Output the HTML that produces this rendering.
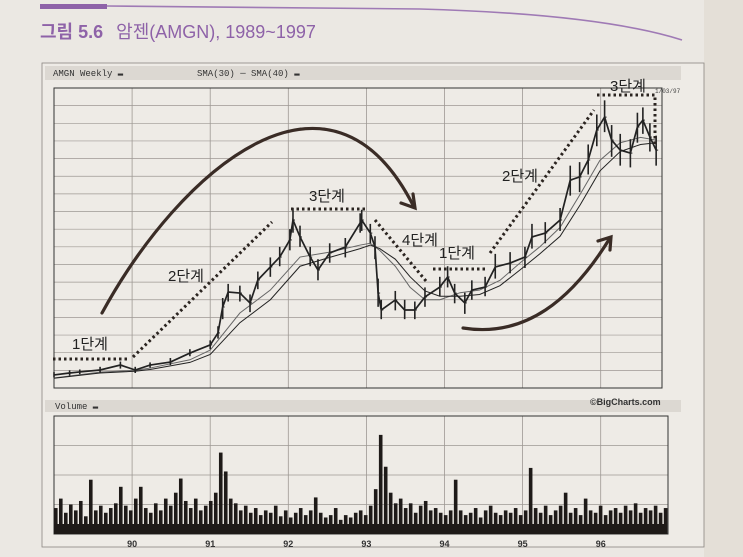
<!DOCTYPE html>
<html><head><meta charset="utf-8">
<style>
html,body{margin:0;padding:0;background:#ebe8e3;}
svg{display:block;}
.mono{font-family:"Liberation Mono","DejaVu Sans Mono",monospace;}
.kr{font-family:"Liberation Sans","Noto Sans CJK KR",sans-serif;}
</style></head>
<body>
<svg id="chart" width="743" height="557" viewBox="0 0 743 557" xmlns="http://www.w3.org/2000/svg">
  <rect x="0" y="0" width="743" height="557" fill="#ebe8e3"/>
  <rect x="704" y="0" width="39" height="557" fill="#e4dfd7"/>
  <rect x="40" y="4" width="67" height="5" fill="#8e62a8"/>
  <path d="M107,6 L420,9 Q600,14 682,40" fill="none" stroke="#9f7ab5" stroke-width="1.6"/>
  <text x="40" y="38" class="kr" font-size="18" font-weight="bold" fill="#8e62a8">그림 5.6 <tspan font-weight="normal" dx="8">암젠(AMGN), 1989~1997</tspan></text>

  <rect x="42" y="63" width="662" height="484" fill="#eeebe6" stroke="#8a8580" stroke-width="0.8"/>
  <rect x="45" y="66" width="636" height="14" fill="#dcd8d2"/>
  <text x="53" y="76" class="mono" font-size="9" fill="#333">AMGN Weekly ▬</text>
  <text x="197" y="76" class="mono" font-size="9" fill="#333">SMA(30) ─  SMA(40) ▬</text>
  <text x="655" y="93" class="mono" font-size="6" fill="#444">1/03/97</text>

  <rect x="45" y="400" width="636" height="12" fill="#dcd8d2"/>
  <text x="55" y="409" class="mono" font-size="9" fill="#333">Volume ▬</text>
  <text x="590" y="405" font-family="Liberation Sans,sans-serif" font-size="9" font-weight="bold" fill="#333">©BigCharts.com</text>

  <g id="priceGrid"></g>
  <g id="volGrid"></g>
  <g id="sma"></g>
  <g id="price"></g>
  <g id="vol"></g>
  <g id="xlabels"></g>

  <g fill="none" stroke="#2b2420" stroke-width="3" stroke-dasharray="2.5 3" >
    <line x1="53" y1="359" x2="130" y2="359"/>
    <line x1="133" y1="357" x2="272" y2="222"/>
    <line x1="291" y1="209" x2="368" y2="209"/>
    <line x1="375" y1="220" x2="426" y2="281"/>
    <line x1="433" y1="269" x2="486" y2="269"/>
    <line x1="490" y1="253" x2="594" y2="110"/>
    <polyline points="597,95 655,95 655,145"/>
  </g>
  <g fill="none" stroke="#3a2c26" stroke-width="3.2" stroke-linecap="round">
    <path d="M102,313 C180,170 330,40 414,207"/>
    <path d="M401,203 L415,208 L413,194"/>
    <path d="M463,328 C525,338 572,300 610,238"/>
    <path d="M598,241 L611,237 L610,250"/>
  </g>
  <g class="kr" font-size="15" fill="#222" text-anchor="middle">
    <text x="90" y="349">1단계</text>
    <text x="186" y="281">2단계</text>
    <text x="327" y="201">3단계</text>
    <text x="420" y="245">4단계</text>
    <text x="457" y="258">1단계</text>
    <text x="520" y="181">2단계</text>
    <text x="628" y="91">3단계</text>
  </g>
</svg>
<script>
const yearTicks = ["90","91","92","93","94","95","96"];
const tickYears = [90,91,92,93,94,95,96];
const priceDates = [89.00,89.20,89.33,89.59,89.85,90.04,90.23,90.49,90.74,91.00,91.10,91.16,91.23,91.38,91.51,91.61,91.77,91.89,92.02,92.06,92.15,92.28,92.38,92.53,92.73,92.92,92.94,93.05,93.11,93.15,93.19,93.37,93.49,93.62,93.75,93.94,94.04,94.13,94.26,94.35,94.52,94.65,94.84,95.03,95.12,95.29,95.48,95.61,95.73,95.84,95.95,96.05,96.14,96.25,96.38,96.47,96.54,96.63,96.71];
const priceClose = [0.74,0.85,0.91,1.02,1.30,1.02,1.30,1.47,1.98,2.44,3.12,4.59,5.44,5.38,4.82,6.12,6.86,7.42,8.39,9.52,8.56,7.42,6.69,7.65,7.99,9.35,9.52,8.78,7.99,5.38,4.42,4.99,4.42,4.42,5.16,5.72,6.29,5.38,4.82,5.55,5.72,6.86,7.08,7.42,8.56,8.78,9.52,11.78,11.96,12.92,14.62,15.35,14.05,13.48,13.31,14.79,15.18,14.22,13.48];
const priceHigh = [0.9,1.0,1.05,1.2,1.5,1.2,1.45,1.7,2.2,2.7,3.5,5.1,5.9,5.8,5.3,6.6,7.4,8.0,9.0,10.2,9.2,8.0,7.3,8.2,8.5,9.9,10.1,9.3,8.6,6.2,5.0,5.5,5.0,4.9,5.7,6.3,6.9,5.9,5.4,6.1,6.3,7.6,7.7,8.0,9.3,9.4,10.2,12.6,12.8,13.8,15.5,16.3,14.9,14.4,14.1,15.6,15.9,15.0,14.3];
const priceLow = [0.6,0.7,0.78,0.88,1.1,0.85,1.15,1.3,1.8,2.2,2.8,3.9,4.9,4.9,4.3,5.6,6.3,6.9,7.8,8.8,8.0,6.9,6.1,7.1,7.4,8.8,8.9,8.2,7.3,4.6,3.9,4.4,3.9,3.9,4.6,5.2,5.7,4.8,4.2,5.0,5.2,6.2,6.5,6.8,7.9,8.2,8.9,10.9,11.1,12.1,13.7,14.5,13.1,12.6,12.5,13.9,14.4,13.4,12.6];
const smaDates = [89.0,89.59,90.04,90.23,90.74,91.0,91.38,91.77,92.15,92.53,92.92,93.05,93.17,93.37,93.56,93.75,93.94,94.2,94.45,94.71,94.97,95.22,95.48,95.74,95.99,96.25,96.51,96.71];
const sma30 = [0.57,0.9,1.0,1.13,1.6,2.15,4.25,5.55,7.42,7.7,8.1,8.2,7.8,6.9,5.7,5.0,5.0,5.4,5.55,6.1,7.1,8.0,9.1,11.0,12.9,13.9,14.2,14.05];
const sma40 = [0.55,0.85,0.95,1.05,1.45,1.9,3.7,5.0,6.9,7.4,7.9,8.1,7.9,7.3,6.3,5.5,5.2,5.2,5.3,5.8,6.7,7.6,8.6,10.4,12.3,13.4,13.8,13.9];
const volumes = [22,30,18,25,20,28,15,46,20,24,18,22,26,40,24,20,30,40,22,18,26,20,30,24,35,47,28,22,30,20,24,28,35,69,53,30,26,20,24,18,22,16,20,18,24,15,20,14,18,22,16,20,31,18,14,16,22,12,16,14,18,20,16,24,38,84,57,35,26,30,22,26,18,24,28,20,22,18,16,20,46,20,16,18,22,14,20,24,18,16,20,18,22,16,20,56,22,18,24,16,20,24,35,18,22,16,30,20,18,24,16,20,22,18,24,20,26,18,22,20,24,18,22];

const NS = "http://www.w3.org/2000/svg";
const PX0 = 54, PX1 = 662, PY0 = 88, PY1 = 388, ROWS = 17;
const VY0 = 416, VY1 = 534, VMAX = 100;
function xs(t){ return PX0 + (t - 89) * 78.1; }
function ys(u){ return PY1 - u / ROWS * (PY1 - PY0); }
function yv(v){ return VY1 - v / VMAX * (VY1 - VY0); }
function mk(tag, attrs, parent){ const e = document.createElementNS(NS, tag); for (const k in attrs) e.setAttribute(k, attrs[k]); parent.appendChild(e); return e; }

const pg = document.getElementById('priceGrid');
for (let r = 1; r < ROWS; r++) {
  const l = mk('line', {x1:PX0, x2:PX1, y1:ys(r), y2:ys(r), stroke:'#9d9893', 'stroke-width':0.7}, pg);
  
  
}
const vg = document.getElementById('volGrid');
[25,50,75].forEach(v => {
  const l = mk('line', {x1:PX0, x2:668, y1:yv(v), y2:yv(v), stroke:'#9d9893', 'stroke-width':0.7}, vg);
  
  
});
const xl = document.getElementById('xlabels');
tickYears.forEach((t, i) => {
  const x = xs(t);
  const a = mk('line', {x1:x, x2:x, y1:PY0, y2:PY1, stroke:'#9d9893', 'stroke-width':0.8}, pg);
  
  
  const b = mk('line', {x1:x, x2:x, y1:VY0, y2:VY1, stroke:'#9d9893', 'stroke-width':0.8}, vg);
  
  
  const tx = mk('text', {x:x, y:547, 'text-anchor':'middle', 'font-size':9, 'font-family':'Liberation Sans,sans-serif', 'font-weight':'bold', fill:'#333'}, xl);
  tx.textContent = yearTicks[i];
  
  
});
const pf = mk('rect', {x:PX0, y:PY0, width:PX1-PX0, height:PY1-PY0, fill:'none', stroke:'#333', 'stroke-width':1}, pg);


const vf = mk('rect', {x:PX0, y:VY0, width:668-PX0, height:VY1-VY0, fill:'none', stroke:'#333', 'stroke-width':1}, vg);



const sg = document.getElementById('sma');
const s30 = mk('polyline', {points: smaDates.map((d,i)=>xs(d)+','+ys(sma30[i])).join(' '), fill:'none', stroke:'#666', 'stroke-width':1}, sg);


const s40 = mk('polyline', {points: smaDates.map((d,i)=>xs(d)+','+ys(sma40[i])).join(' '), fill:'none', stroke:'#222', 'stroke-width':1}, sg);



const pr = document.getElementById('price');
const cl = mk('polyline', {points: priceDates.map((d,i)=>xs(d)+','+ys(priceClose[i])).join(' '), fill:'none', stroke:'#222', 'stroke-width':1.7}, pr);


priceDates.forEach((d, i) => {
  const x = xs(d);
  const b = mk('line', {x1:x, x2:x, y1:ys(priceHigh[i]), y2:ys(priceLow[i]), stroke:'#222', 'stroke-width':1.6}, pr);
  
  
  const t = mk('line', {x1:x, x2:x+2, y1:ys(priceClose[i]), y2:ys(priceClose[i]), stroke:'#222', 'stroke-width':1}, pr);
  
  
});

const vb = document.getElementById('vol');
volumes.forEach((v, i) => {
  const d = 89 + i * 0.064;
  const x = xs(d);
  const r = mk('rect', {x:x, y:yv(v), width:3.6, height:VY1-yv(v), fill:'#1e1a18'}, vb);
  
  
});
const base = mk('rect', {x:PX0, y:VY1-10, width:612, height:10, fill:'#1e1a18'}, vb);


</script>
</body></html>
